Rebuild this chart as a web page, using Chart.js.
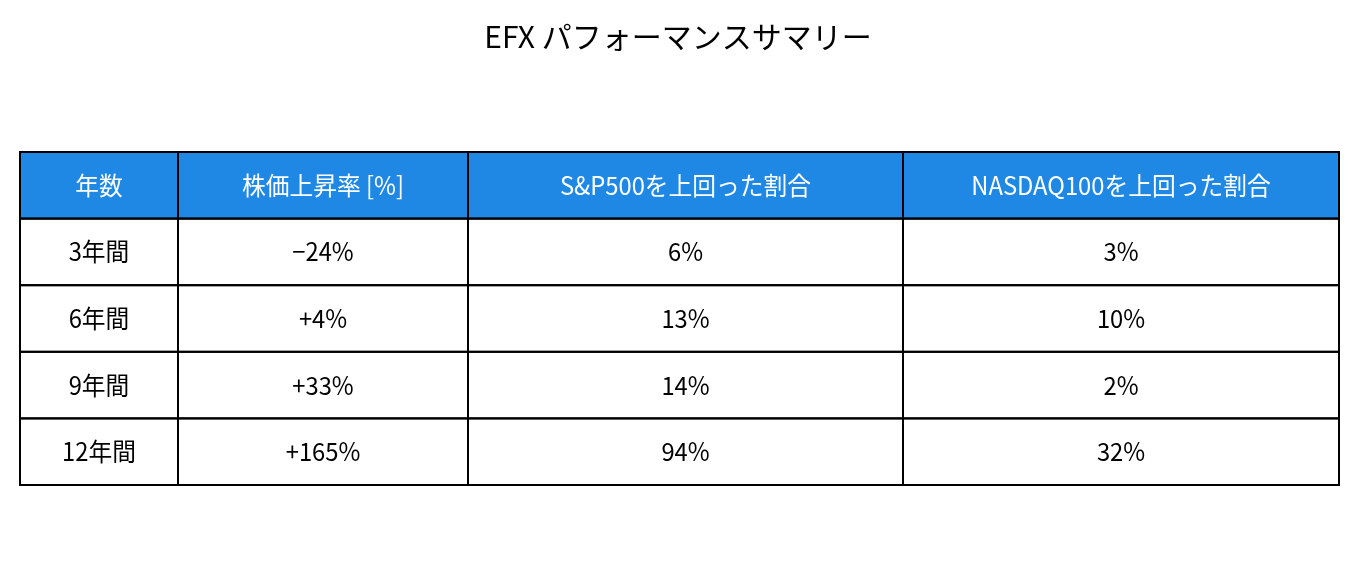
<!DOCTYPE html>
<html><head><meta charset="utf-8">
<script src="https://cdn.jsdelivr.net/npm/chart.js@4"></script>
<style>html,body{margin:0;padding:0;background:#fff}#wrap{width:1357px;height:569px}</style>
</head><body><div id="wrap"><canvas id="c"></canvas></div>
<script>
const headers = ["年数","株価上昇率 [%]","S&P500を上回った割合","NASDAQ100を上回った割合"];
const periods = ["3年間","6年間","9年間","12年間"];
const priceChange = ["−24%","+4%","+33%","+165%"];
const beatSP500 = ["6%","13%","14%","94%"];
const beatNasdaq = ["3%","10%","2%","32%"];
const columnWidths = [158, 290, 435, 436];

const FONT = '"Noto Sans CJK JP","Noto Sans",sans-serif';
const tablePlugin = {
  id: 'table',
  afterDraw(chart) {
    const ctx = chart.ctx, xs = chart.scales.x, ys = chart.scales.y;
    const bounds = [0];
    columnWidths.forEach(w => bounds.push(bounds[bounds.length-1] + w));
    const rows = [headers];
    periods.forEach((p,i) => rows.push([p, priceChange[i], beatSP500[i], beatNasdaq[i]]));
    ctx.save();
    rows.forEach((row, r) => {
      const y0 = ys.getPixelForValue(r), y1 = ys.getPixelForValue(r+1);
      row.forEach((txt, c) => {
        const x0 = xs.getPixelForValue(bounds[c]), x1 = xs.getPixelForValue(bounds[c+1]);
        if (r === 0) { ctx.fillStyle = '#1f88e5'; ctx.fillRect(x0, y0, x1-x0, y1-y0); }
        ctx.strokeStyle = '#000'; ctx.lineWidth = 2;
        ctx.strokeRect(x0, y0, x1-x0, y1-y0);
        ctx.fillStyle = r === 0 ? '#fff' : '#000';
        ctx.font = '25px ' + FONT;
        ctx.textAlign = 'center'; ctx.textBaseline = 'middle';
        const cx = (x0+x1)/2, cy = (y0+y1)/2;
        ctx.save(); ctx.translate(cx, cy); ctx.scale(0.95, 1);
        ctx.fillText(txt, 0, 0); ctx.restore();
      });
    });
    ctx.restore();
  }
};

new Chart(document.getElementById('c'), {
  type: 'scatter',
  data: { datasets: [{ data: [] }] },
  options: {
    responsive: true, maintainAspectRatio: false, animation: false,
    layout: { padding: { left: 20, right: 18, top: 152, bottom: 84 } },
    plugins: { legend: { display: false }, tooltip: { enabled: false }, title: { display: false } },
    scales: {
      x: { type: 'linear', min: 0, max: 1319, display: false },
      y: { type: 'linear', min: 0, max: 5, reverse: true, display: false }
    }
  },
  plugins: [tablePlugin, {
    id: 'ttl',
    afterDraw(chart) {
      const ctx = chart.ctx; ctx.save();
      ctx.fillStyle = '#000'; ctx.font = '30px ' + FONT;
      ctx.textAlign = 'center'; ctx.textBaseline = 'middle';
      ctx.translate(678, 37);
      ctx.fillText("EFX パフォーマンスサマリー", 0, 0); ctx.restore();
    }
  }]
});
</script></body></html>
